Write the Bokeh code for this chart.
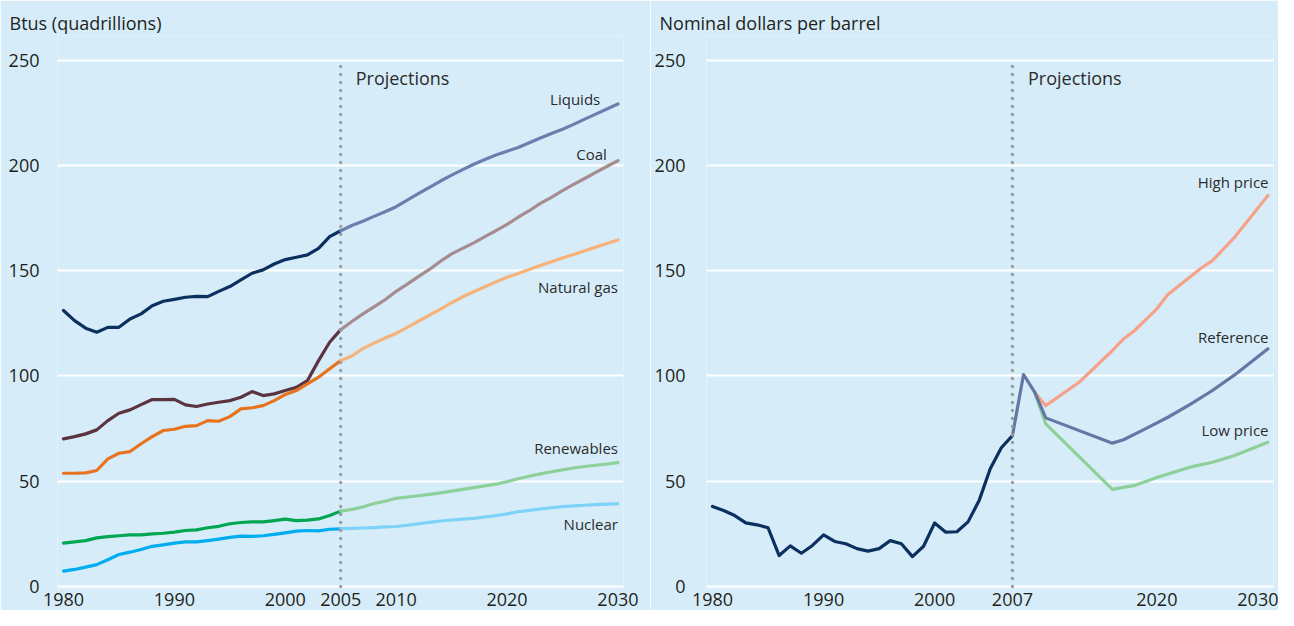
from bokeh.plotting import figure
from bokeh.layouts import row
from bokeh.models import Range1d, FixedTicker, Label
from bokeh.embed import file_html
from bokeh.resources import INLINE

# ---------------- Data: left chart (quadrillion Btus) ----------------
hist_years = list(range(1980, 2006))
proj_years = list(range(2005, 2031))

liquids_hist = [131.1, 126.3, 122.7, 120.8, 123.1, 123.1, 127.1, 129.5, 133.4, 135.5,
                136.4, 137.4, 137.8, 137.7, 140.2, 142.5, 145.6, 148.8, 150.4, 153.2,
                155.3, 156.4, 157.5, 160.6, 166.2, 169.0]
liquids_proj = [169.0, 171.5, 173.5, 175.8, 178.0, 180.4, 183.5, 186.6, 189.6, 192.6,
                195.4, 198.0, 200.6, 202.8, 205.0, 206.8, 208.5, 210.8, 213.0, 215.2,
                217.2, 219.5, 222.0, 224.4, 226.8, 229.2]
coal_hist = [70.1, 71.2, 72.5, 74.4, 78.8, 82.3, 83.9, 86.4, 88.8, 88.8,
             88.9, 86.3, 85.5, 86.7, 87.5, 88.3, 89.9, 92.6, 90.7, 91.5,
             93.1, 94.6, 97.8, 107.3, 116.0, 122.0]
coal_proj = [122.0, 125.9, 129.5, 132.8, 136.2, 140.2, 143.6, 147.2, 150.6, 154.5,
             158.0, 160.6, 163.2, 166.2, 169.0, 172.0, 175.4, 178.5, 182.0, 184.8,
             188.0, 191.0, 193.8, 196.7, 199.5, 202.3]
gas_hist = [53.8, 53.8, 54.0, 55.1, 60.6, 63.3, 64.1, 67.8, 71.2, 74.1,
            74.7, 76.1, 76.4, 78.8, 78.5, 80.7, 84.4, 84.9, 85.9, 88.3,
            91.2, 93.1, 96.2, 99.4, 103.4, 107.3]
gas_proj = [107.3, 109.5, 113.0, 115.6, 118.0, 120.2, 123.1, 126.0, 128.9, 131.8,
            134.8, 137.6, 140.0, 142.4, 144.7, 146.9, 148.7, 150.6, 152.5, 154.3,
            156.0, 157.7, 159.5, 161.2, 162.9, 164.6]
renew_hist = [20.6, 21.2, 21.8, 23.1, 23.7, 24.1, 24.5, 24.5, 25.0, 25.3,
              25.8, 26.6, 26.9, 27.9, 28.6, 29.8, 30.4, 30.7, 30.7, 31.3,
              32.0, 31.3, 31.5, 32.1, 33.7, 35.8]
renew_proj = [35.8, 36.6, 37.8, 39.4, 40.5, 41.9, 42.5, 43.1, 43.8, 44.5,
              45.3, 46.1, 47.0, 47.8, 48.6, 49.8, 51.2, 52.4, 53.5, 54.5,
              55.4, 56.3, 57.0, 57.6, 58.2, 58.8]
nuclear_hist = [7.3, 8.1, 9.2, 10.4, 12.7, 15.2, 16.3, 17.6, 19.1, 19.8,
                20.6, 21.2, 21.2, 21.8, 22.5, 23.3, 23.9, 23.8, 24.1, 24.8,
                25.5, 26.3, 26.6, 26.4, 27.2, 27.4]
nuclear_proj = [27.4, 27.6, 27.8, 28.0, 28.3, 28.5, 29.1, 29.8, 30.5, 31.1,
                31.6, 32.0, 32.4, 33.0, 33.7, 34.5, 35.5, 36.2, 36.8, 37.4,
                37.9, 38.3, 38.6, 38.9, 39.1, 39.3]
left_xticks = [1980, 1990, 2000, 2005, 2010, 2020, 2030]

# ---------------- Data: right chart (nominal $ per barrel) ----------------
oil_years = list(range(1980, 2008))
oil_hist = [38.0, 36.1, 33.7, 30.2, 29.3, 27.9, 14.7, 19.3, 15.8, 19.5,
            24.5, 21.4, 20.3, 18.0, 16.8, 18.0, 21.8, 20.3, 14.2, 19.1,
            30.2, 25.8, 26.0, 30.7, 40.8, 55.9, 65.9, 71.7]
ref_years = [2007, 2008, 2009, 2010, 2016, 2017, 2019, 2021, 2023, 2025, 2027, 2030]
ref_vals = [71.7, 100.7, 92.3, 80.1, 68.1, 69.7, 75.0, 80.4, 86.5, 93.1, 100.5, 112.9]
high_years = [2009, 2010, 2013, 2016, 2017, 2018, 2020, 2021, 2024, 2025, 2027, 2030]
high_vals = [92.3, 85.9, 97.0, 112.1, 117.6, 121.6, 131.9, 138.7, 151.3, 154.8, 165.9, 185.7]
low_years = [2009, 2010, 2016, 2018, 2020, 2023, 2025, 2027, 2030]
low_vals = [92.3, 77.2, 46.1, 48.0, 51.8, 56.7, 59.0, 62.2, 68.5]
right_xticks = [1980, 1990, 2000, 2007, 2020, 2030]

yticks = [0, 50, 100, 150, 200, 250]

BG = "#D6EDF9"
TXT = "#231F20"
FONT = "Open Sans"


def base_fig(width, left_border, right_border, xticks, label_standoff, title):
    p = figure(width=width, height=610, output_backend="svg", toolbar_location=None,
               x_range=Range1d(1979.46, 2030.5), y_range=Range1d(-0.95, 261.73),
               min_border_left=left_border, min_border_right=right_border,
               min_border_top=35, min_border_bottom=22, title=title)
    p.background_fill_color = BG
    p.border_fill_color = BG
    p.outline_line_color = None
    p.title.text_font = FONT
    p.title.text_font_size = "18px"
    p.title.text_font_style = "normal"
    p.title.text_color = TXT
    p.title.align = "left"
    p.title.offset = -(left_border - 9)
    p.title.standoff = 2
    p.xgrid.visible = False
    p.ygrid.grid_line_color = "white"
    p.ygrid.grid_line_width = 2
    p.yaxis.ticker = FixedTicker(ticks=yticks)
    p.xaxis.ticker = FixedTicker(ticks=xticks)
    for ax in (p.xaxis, p.yaxis):
        ax.axis_line_color = None
        ax.major_tick_line_color = None
        ax.minor_tick_line_color = None
        ax.major_tick_out = 0
        ax.major_tick_in = 0
        ax.minor_tick_out = 0
        ax.major_label_text_font = FONT
        ax.major_label_text_font_size = "18px"
        ax.major_label_text_color = TXT
    p.yaxis.major_label_standoff = label_standoff
    p.xaxis.major_label_standoff = 4
    return p


def add_label(p, text, x, y, align="right", size="15px", color="#2B2B2B"):
    p.add_layout(Label(x=x, y=y, text=text, text_align=align, text_baseline="middle",
                       text_font=FONT, text_font_size=size, text_color=color))


def add_divider(p, year):
    # dotted vertical "Projections" divider, from the zero line up to just below the top gridline
    p.segment(x0=[year], y0=[yticks[0]], x1=[year], y1=[yticks[-1] - 2],
              line_color="#9A9A9A", line_width=3.3, line_dash="0 8", line_cap="round")


# ---------------- Left chart ----------------
p1 = base_fig(650, 57, 27, left_xticks, 18, "Btus (quadrillions)")
series = [
    (liquids_hist, liquids_proj, "#0B2F5F", "#6B7FAE"),
    (coal_hist, coal_proj, "#5C3440", "#A58C8E"),
    (gas_hist, gas_proj, "#E8731E", "#F7B27A"),
    (renew_hist, renew_proj, "#00A651", "#8DD09A"),
    (nuclear_hist, nuclear_proj, "#00AEEF", "#7DD3F7"),
]
for h, pr, c_h, c_p in series:
    p1.line(hist_years, h, line_color=c_h, line_width=3.2, line_join="round", line_cap="round")
    p1.line(proj_years, pr, line_color=c_p, line_width=3.2, line_join="round", line_cap="round")

add_divider(p1, hist_years[-1])
add_label(p1, "Projections", 2006.35, 241.7, align="left", size="18px")
add_label(p1, "Liquids", 2028.4, 231.7)
add_label(p1, "Coal", 2029.0, 205.6)
add_label(p1, "Natural gas", 2030.0, 142.5)
add_label(p1, "Renewables", 2030.0, 65.8)
add_label(p1, "Nuclear", 2030.0, 29.9)

# ---------------- Right chart ----------------
p2 = base_fig(628, 56, 5, right_xticks, 21, "Nominal dollars per barrel")
p2.line(oil_years, oil_hist, line_color="#0B2F5F", line_width=3.2, line_join="round", line_cap="round")
p2.line(high_years, high_vals, line_color="#F7A18A", line_width=3.2, line_join="round", line_cap="round")
p2.line(low_years, low_vals, line_color="#8DD09A", line_width=3.2, line_join="round", line_cap="round")
p2.line(ref_years, ref_vals, line_color="#6577A6", line_width=3.2, line_join="round", line_cap="round")
add_divider(p2, oil_years[-1])
add_label(p2, "Projections", 2008.4, 241.7, align="left", size="18px")
add_label(p2, "High price", 2030.05, 192.3)
add_label(p2, "Reference", 2030.05, 118.7)
add_label(p2, "Low price", 2030.05, 74.5)

layout = row(p1, p2, spacing=0)
open("out.html", "w").write(file_html(layout, INLINE))
